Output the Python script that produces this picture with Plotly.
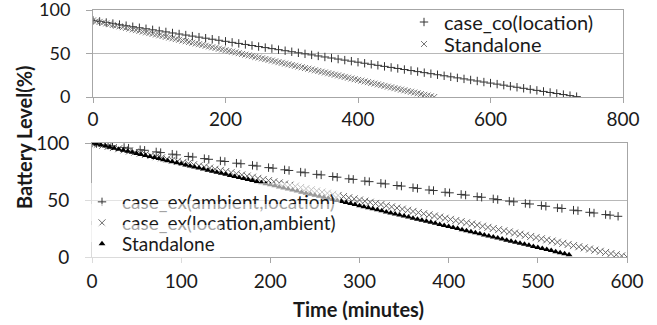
import plotly.graph_objects as go

# ---------------- data ----------------
# Top panel
co_time = [0, 10, 20, 30, 40, 50, 60, 70, 80, 90, 100, 110, 120, 130, 140, 150, 160, 170, 180, 190,
           200, 210, 220, 230, 240, 250, 260, 270, 280, 290, 300, 310, 320, 330, 340, 350, 360, 370, 380, 390,
           400, 410, 420, 430, 440, 450, 460, 470, 480, 490, 500, 510, 520, 530, 540, 550, 560, 570, 580, 590,
           600, 610, 620, 630, 640, 650, 660, 670, 680, 690, 700, 710, 720, 730]
co_level = [88, 86.8, 85.6, 84.4, 83.2, 82, 80.8, 79.6, 78.4, 77.2, 76, 74.8, 73.6, 72.4, 71.2, 70, 68.8, 67.6, 66.4, 65.2,
            64, 62.8, 61.6, 60.4, 59.2, 58, 56.8, 55.6, 54.4, 53.2, 52, 50.8, 49.6, 48.4, 47.2, 46, 44.8, 43.6, 42.4, 41.2,
            40, 38.8, 37.6, 36.4, 35.2, 34, 32.8, 31.6, 30.4, 29.2, 28, 26.8, 25.6, 24.4, 23.2, 22, 20.8, 19.6, 18.4, 17.2,
            16, 14.8, 13.6, 12.4, 11.2, 10, 8.8, 7.6, 6.4, 5.2, 4, 2.8, 1.6, 0.4]

sa1_time = [0, 5, 10, 15, 20, 25, 30, 35, 40, 45, 50, 55, 60, 65, 70, 75, 80, 85, 90, 95,
            100, 105, 110, 115, 120, 125, 130, 135, 140, 145, 150, 155, 160, 165, 170, 175, 180, 185, 190, 195,
            200, 205, 210, 215, 220, 225, 230, 235, 240, 245, 250, 255, 260, 265, 270, 275, 280, 285, 290, 295,
            300, 305, 310, 315, 320, 325, 330, 335, 340, 345, 350, 355, 360, 365, 370, 375, 380, 385, 390, 395,
            400, 405, 410, 415, 420, 425, 430, 435, 440, 445, 450, 455, 460, 465, 470, 475, 480, 485, 490, 495,
            500, 505, 510, 515]
sa1_level = [88.0, 87.1, 86.3, 85.4, 84.6, 83.7, 82.9, 82.0, 81.2, 80.3, 79.5, 78.6, 77.7, 76.9, 76.0, 75.2, 74.3, 73.5, 72.6, 71.8,
             70.9, 70.1, 69.2, 68.3, 67.5, 66.6, 65.8, 64.9, 64.1, 63.2, 62.4, 61.5, 60.7, 59.8, 58.9, 58.1, 57.2, 56.4, 55.5, 54.7,
             53.8, 53.0, 52.1, 51.3, 50.4, 49.5, 48.7, 47.8, 47.0, 46.1, 45.3, 44.4, 43.6, 42.7, 41.9, 41.0, 40.1, 39.3, 38.4, 37.6,
             36.7, 35.9, 35.0, 34.2, 33.3, 32.5, 31.6, 30.7, 29.9, 29.0, 28.2, 27.3, 26.5, 25.6, 24.8, 23.9, 23.1, 22.2, 21.3, 20.5,
             19.6, 18.8, 17.9, 17.1, 16.2, 15.4, 14.5, 13.7, 12.8, 11.9, 11.1, 10.2, 9.4, 8.5, 7.7, 6.8, 6.0, 5.1, 4.3, 3.4,
             2.5, 1.7, 0.8, 0.0]

# Bottom panel
al_time = [0, 5, 18, 23, 36, 41, 54, 59, 72, 77, 90, 95, 108, 113, 126, 131, 144, 149, 162, 167,
           180, 185, 198, 203, 216, 221, 234, 239, 252, 257, 270, 275, 288, 293, 306, 311, 324, 329, 342, 347,
           360, 365, 378, 383, 396, 401, 414, 419, 432, 437, 450, 455, 468, 473, 486, 491, 504, 509, 522, 527,
           540, 545, 558, 563, 576, 581, 590]
al_level = [100, 99.5, 98.0, 97.5, 96.1, 95.5, 94.1, 93.6, 92.2, 91.6, 90.2, 89.6, 88.2, 87.7, 86.3, 85.7, 84.3, 83.8, 82.3, 81.8,
            80.4, 79.8, 78.4, 77.9, 76.5, 75.9, 74.5, 73.9, 72.5, 72.0, 70.6, 70.0, 68.6, 68.1, 66.6, 66.1, 64.7, 64.1, 62.7, 62.2,
            60.8, 60.2, 58.8, 58.3, 56.8, 56.3, 54.9, 54.3, 52.9, 52.4, 51.0, 50.4, 49.0, 48.4, 47.0, 46.5, 45.1, 44.5, 43.1, 42.6,
            41.1, 40.6, 39.2, 38.6, 37.2, 36.7, 35.7]

la_time = [0, 6, 12, 18, 24, 30, 36, 42, 48, 54, 60, 66, 72, 78, 84, 90, 96, 102, 108, 114,
           120, 126, 132, 138, 144, 150, 156, 162, 168, 174, 180, 186, 192, 198, 204, 210, 216, 222, 228, 234,
           240, 246, 252, 258, 264, 270, 276, 282, 288, 294, 300, 306, 312, 318, 324, 330, 336, 342, 348, 354,
           360, 366, 372, 378, 384, 390, 396, 402, 408, 414, 420, 426, 432, 438, 444, 450, 456, 462, 468, 474,
           480, 486, 492, 498, 504, 510, 516, 522, 528, 534, 540, 546, 552, 558, 564, 570, 576, 582, 588, 594,
           600]
la_level = [100, 99, 98, 97, 96, 95, 94, 93, 92, 91, 90, 89, 88, 87, 86, 85, 84, 83, 82, 81,
            80, 79, 78, 77, 76, 75, 74, 73, 72, 71, 70, 69, 68, 67, 66, 65, 64, 63, 62, 61,
            60, 59, 58, 57, 56, 55, 54, 53, 52, 51, 50, 49, 48, 47, 46, 45, 44, 43, 42, 41,
            40, 39, 38, 37, 36, 35, 34, 33, 32, 31, 30, 29, 28, 27, 26, 25, 24, 23, 22, 21,
            20, 19, 18, 17, 16, 15, 14, 13, 12, 11, 10, 9, 8, 7, 6, 5, 4, 3, 2, 1,
            0]

sa2_time = [0, 5, 10, 15, 20, 25, 30, 35, 40, 45, 50, 55, 60, 65, 70, 75, 80, 85, 90, 95,
            100, 105, 110, 115, 120, 125, 130, 135, 140, 145, 150, 155, 160, 165, 170, 175, 180, 185, 190, 195,
            200, 205, 210, 215, 220, 225, 230, 235, 240, 245, 250, 255, 260, 265, 270, 275, 280, 285, 290, 295,
            300, 305, 310, 315, 320, 325, 330, 335, 340, 345, 350, 355, 360, 365, 370, 375, 380, 385, 390, 395,
            400, 405, 410, 415, 420, 425, 430, 435, 440, 445, 450, 455, 460, 465, 470, 475, 480, 485, 490, 495,
            500, 505, 510, 515, 520, 525, 530, 535]
sa2_level = [100, 99.1, 98.2, 97.3, 96.3, 95.4, 94.5, 93.6, 92.7, 91.8, 90.8, 89.9, 89.0, 88.1, 87.2, 86.3, 85.3, 84.4, 83.5, 82.6,
             81.7, 80.8, 79.8, 78.9, 78.0, 77.1, 76.2, 75.3, 74.4, 73.4, 72.5, 71.6, 70.7, 69.8, 68.9, 67.9, 67.0, 66.1, 65.2, 64.3,
             63.4, 62.4, 61.5, 60.6, 59.7, 58.8, 57.9, 56.9, 56.0, 55.1, 54.2, 53.3, 52.4, 51.5, 50.5, 49.6, 48.7, 47.8, 46.9, 46.0,
             45.0, 44.1, 43.2, 42.3, 41.4, 40.5, 39.5, 38.6, 37.7, 36.8, 35.9, 35.0, 34.0, 33.1, 32.2, 31.3, 30.4, 29.5, 28.5, 27.6,
             26.7, 25.8, 24.9, 24.0, 23.1, 22.1, 21.2, 20.3, 19.4, 18.5, 17.6, 16.6, 15.7, 14.8, 13.9, 13.0, 12.1, 11.1, 10.2, 9.3,
             8.4, 7.5, 6.6, 5.7, 4.7, 3.8, 2.9, 2.0]

top_xticks = [0, 200, 400, 600, 800]
bot_xticks = [0, 100, 200, 300, 400, 500, 600]
yticks = [0, 50, 100]

# ---------------- figure ----------------
W, H = 657, 325
FONT = "Lato, 'Open Sans', sans-serif"
AX = "#a6a6a6"
TXT = "#1a1a1a"

fig = go.Figure()

fig.add_trace(go.Scatter(x=co_time, y=co_level, mode="markers", name="case_co(location)",
                         marker=dict(symbol="cross-thin", size=6, line=dict(width=1, color="#333333")),
                         xaxis="x", yaxis="y", legend="legend"))
fig.add_trace(go.Scatter(x=sa1_time, y=sa1_level, mode="markers", name="Standalone",
                         marker=dict(symbol="x-thin", size=6, line=dict(width=1, color="#777777")),
                         xaxis="x", yaxis="y", legend="legend2"))

fig.add_trace(go.Scatter(x=al_time, y=al_level, mode="markers", name="case_ex(ambient,location)",
                         marker=dict(symbol="cross-thin", size=6, line=dict(width=1, color="#333333")),
                         xaxis="x2", yaxis="y2", legend="legend3"))
fig.add_trace(go.Scatter(x=la_time, y=la_level, mode="markers", name="case_ex(location,ambient)",
                         marker=dict(symbol="x-thin", size=7, line=dict(width=1, color="#6a6a6a")),
                         xaxis="x2", yaxis="y2", legend="legend4"))
fig.add_trace(go.Scatter(x=sa2_time, y=sa2_level, mode="markers", name="Standalone",
                         marker=dict(symbol="triangle-up", size=6, color="black"),
                         xaxis="x2", yaxis="y2", legend="legend5"))


def xax(domain, rng, ticks, anchor, standoff):
    return dict(domain=domain, range=rng, tickvals=ticks, anchor=anchor,
                showline=True, linecolor=AX, linewidth=1, mirror=True,
                ticks="outside", ticklen=5, tickcolor=AX, showgrid=False, zeroline=False,
                ticklabeloverflow="allow",
                tickfont=dict(family=FONT, size=19, color=TXT), ticklabelstandoff=standoff)


def yax(domain, anchor, size):
    return dict(domain=domain, range=[0, 100], tickvals=yticks, anchor=anchor,
                showline=True, linecolor=AX, linewidth=1, mirror=True,
                ticks="outside", ticklen=6, tickcolor=AX, showgrid=True, gridcolor="#b8b8b8",
                zeroline=False, ticklabeloverflow="allow",
                tickfont=dict(family=FONT, size=size, color=TXT),
                ticklabelstandoff=12)


def leg(x_px, y_px, size, bg):
    return dict(x=x_px / W, y=1 - y_px / H, xanchor="left", yanchor="middle",
                bgcolor=bg, font=dict(family=FONT, size=size, color=TXT),
                itemwidth=30, tracegroupgap=0, borderwidth=0)


fig.update_layout(
    width=W, height=H,
    margin=dict(l=0, r=0, t=0, b=0, autoexpand=False),
    paper_bgcolor="white", plot_bgcolor="white",
    font=dict(family=FONT, color=TXT),
    showlegend=True,
    xaxis=xax([93 / W, 623 / W], [0, 800], top_xticks, "y", 0),
    yaxis=yax([1 - 97 / H, 1 - 10 / H], "x", 18),
    xaxis2=xax([92 / W, 627 / W], [0, 600], bot_xticks, "y2", 2),
    yaxis2=yax([1 - 257 / H, 1 - 143 / H], "x2", 19),
    legend=leg(404, 22, 20, "rgba(0,0,0,0)"),
    legend2=leg(404, 44, 20, "rgba(0,0,0,0)"),
    legend3=leg(82, 202, 19, "rgba(255,255,255,0.6)"),
    legend4=leg(82, 223, 19, "rgba(255,255,255,0.6)"),
    legend5=leg(82, 244, 19, "rgba(255,255,255,0.6)"),
    annotations=[
        dict(text="<b>Battery Level(%)</b>", x=24 / W, y=1 - 137 / H, xref="paper", yref="paper",
             xanchor="center", yanchor="middle",
             textangle=-90, showarrow=False, font=dict(family=FONT, size=20, color=TXT)),
        dict(text="<b>Time (minutes)</b>", x=358 / W, y=1 - 309 / H, xref="paper", yref="paper",
             xanchor="center", yanchor="middle",
             showarrow=False, font=dict(family=FONT, size=20, color=TXT)),
    ],
)

fig.write_html("out.html", config={"displayModeBar": False},
               post_script="document.body.style.margin='0';document.body.style.overflow='hidden';")
